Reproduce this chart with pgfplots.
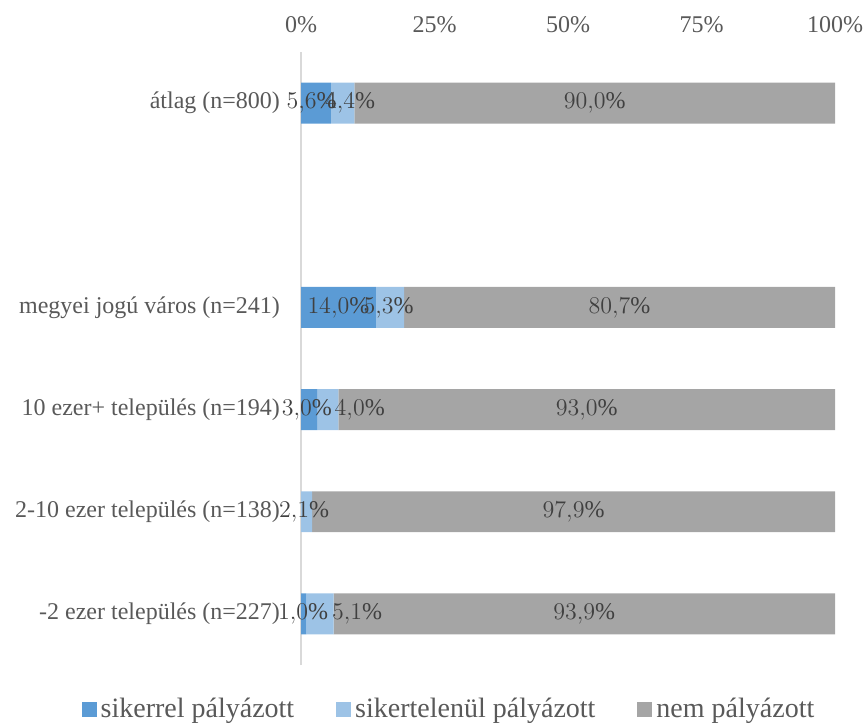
\documentclass[border=0pt]{standalone}
\usepackage{fontspec}
\setmainfont{Liberation Serif}
\usepackage{pgfplots}
\usepackage{pgfplotstable}
\pgfplotsset{compat=1.18}
\definecolor{cA}{HTML}{5B9BD5}
\definecolor{cB}{HTML}{9DC3E6}
\definecolor{cC}{HTML}{A5A5A5}
\definecolor{txt}{HTML}{595959}
\definecolor{lbl}{HTML}{404040}
\definecolor{axl}{HTML}{D9D9D9}
\pgfplotstableread{
y s1 s2 s3
0 1.0 5.1 93.9
1 0.0 2.1 97.9
2 3.0 4.0 93.0
3 14.0 5.3 80.7
5 5.6 4.4 90.0
}\bars
\pgfplotstableread{
x y v
2.0 5 5.6
9.2 5 4.4
55.0 5 90.0
7.0 3 14.0
16.4 3 5.3
59.65 3 80.7
1.1 2 3.0
11.0 2 4.0
53.5 2 93.0
0.6 1 2.1
51.05 1 97.9
0.4 0 1.0
10.5 0 5.1
53.05 0 93.9
}\labels
\begin{document}
\begin{tikzpicture}
\path[use as bounding box] (0,0) rectangle (432.5pt,362pt);
\pgfplotsset{common/.style={scale only axis, width=267pt, height=306.5pt,
  at={(150.5pt,29.5pt)}, anchor=south west, xmin=0, xmax=100, ymin=-0.5, ymax=5.5}}
\begin{axis}[common, xbar stacked, bar width=0.4,
  axis y line*=left, axis x line*=top,
  x axis line style={draw=none}, y axis line style={axl, line width=0.75pt},
  xtick={0,25,50,75,100}, xticklabels={0\%,25\%,50\%,75\%,100\%},
  ytick={0,1,2,3,5},
  yticklabels={-2 ezer település (n=227),2-10 ezer település (n=138),10 ezer+ település (n=194),megyei jogú város (n=241),átlag (n=800)},
  major tick length=0pt,
  ticklabel style={font=\fontsize{12}{14}\selectfont, text=txt},
  xticklabel style={yshift=6pt},
  yticklabel style={xshift=-7pt},
  legend style={at={(0.279,-0.072)}, anchor=center, legend columns=3, draw=none,
    font=\fontsize{14}{16}\selectfont, text=txt,
    /tikz/every even column/.append style={column sep=19pt},
    nodes={inner xsep=2pt}},
  legend image code/.code={\fill[#1] (0pt,-3.75pt) rectangle (7.5pt,3.75pt);},
]
\addplot[fill=cA, draw=none] table[x=s1, y=y]{\bars};
\addlegendentry{sikerrel pályázott}
\addplot[fill=cB, draw=none] table[x=s2, y=y]{\bars};
\addlegendentry{sikertelenül pályázott}
\addplot[fill=cC, draw=none] table[x=s3, y=y]{\bars};
\addlegendentry{nem pályázott}
\end{axis}
\begin{axis}[common, hide axis]
\addplot[draw=none, point meta=explicit,
  nodes near coords={\pgfmathprintnumber[fixed,fixed zerofill,precision=1,use comma]{\pgfplotspointmeta}\%},
  nodes near coords style={anchor=center, font=\fontsize{12}{14}\selectfont, text=lbl}]
  table[x=x, y=y, meta=v]{\labels};
\end{axis}
\end{tikzpicture}
\end{document}
